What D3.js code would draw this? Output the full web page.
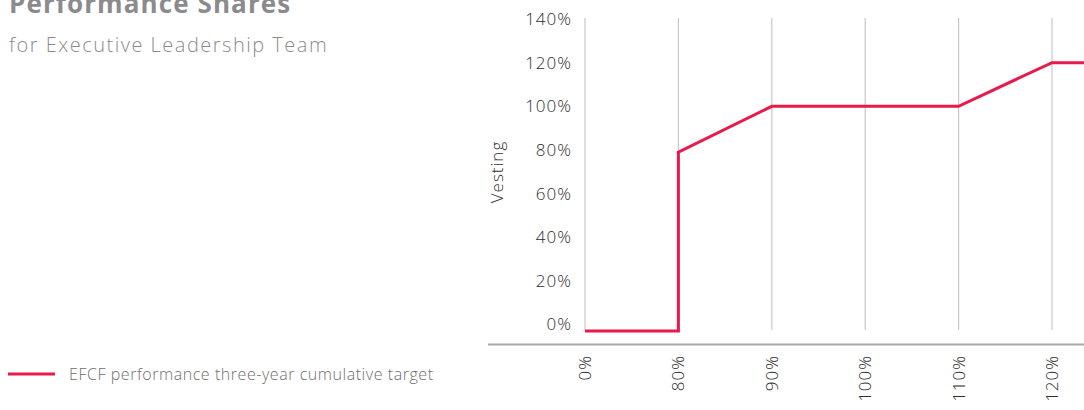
<!DOCTYPE html>
<html>
<head>
<meta charset="utf-8">
<script src="https://cdn.jsdelivr.net/npm/d3@7"></script>
<style>
  html, body { margin: 0; padding: 0; background: #fff; }
  svg { display: block; font-family: "Open Sans", Lato, sans-serif; }
</style>
</head>
<body>
<svg id="chart" width="1084" height="410"></svg>
<script>
// Performance categories along the x axis (the last one sits past the right edge)
const categories = ["0%", "80%", "90%", "100%", "110%", "120%", "130%"];
// Vesting line: category index and vesting percentage at each vertex
const lineIndex = [0, 1, 1, 2, 3, 4, 5, 6];
const lineVesting = [-3, -3, 79, 100, 100, 100, 120, 120];
const yTicks = [0, 20, 40, 60, 80, 100, 120, 140];
const visibleCats = categories.slice(0, 6);

const FONT = "'Open Sans', Lato, sans-serif";
const svg = d3.select("#chart");
const red = "#e8194b";

const x = d3.scaleLinear().domain([0, 1]).range([585, 678.4]);
const y = d3.scaleLinear().domain([0, 140]).range([324.5, 19]);

// Title block
svg.append("text").attr("x", 9).attr("y", 13)
  .attr("font-size", 26).attr("font-weight", 700).attr("fill", "#8b8b8e")
  .attr("letter-spacing", 1.1)
  .text("Performance Shares");
svg.append("text").attr("x", 9).attr("y", 52)
  .attr("font-size", 20).attr("font-weight", 300).attr("fill", "#8b8b8e")
  .attr("letter-spacing", 1.5)
  .text("for Executive Leadership Team");

// Vertical gridlines at each visible category
svg.append("g").selectAll("line").data(visibleCats).join("line")
  .attr("x1", (d, i) => x(i)).attr("x2", (d, i) => x(i))
  .attr("y1", 18).attr("y2", 330)
  .attr("stroke", "#c8c8c8").attr("stroke-width", 1.2);

// Y axis tick labels
const yAxis = d3.axisLeft(y).tickValues(yTicks).tickFormat(d => d + "%").tickSize(0).tickPadding(0);
const gy = svg.append("g").attr("transform", "translate(572,0)").call(yAxis);
gy.select(".domain").remove();
gy.selectAll("text").attr("font-size", 17).attr("font-family", FONT)
  .attr("font-weight", 300).attr("fill", "#2e2e2e").attr("letter-spacing", 1);

// Y axis title
svg.append("text")
  .attr("transform", "translate(503,172) rotate(-90)")
  .attr("text-anchor", "middle")
  .attr("font-size", 17).attr("font-weight", 300).attr("fill", "#2e2e2e")
  .attr("letter-spacing", 1)
  .text("Vesting");

// Baseline
svg.append("line").attr("x1", 488).attr("x2", 1084).attr("y1", 344.5).attr("y2", 344.5)
  .attr("stroke", "#a8a8a8").attr("stroke-width", 2);

// X axis labels, rotated
svg.append("g").selectAll("text").data(visibleCats).join("text")
  .attr("transform", (d, i) => `translate(${x(i) + 6},355) rotate(-90)`)
  .attr("text-anchor", "end")
  .attr("font-size", 17).attr("font-weight", 300).attr("fill", "#2e2e2e")
  .attr("letter-spacing", 1)
  .text(d => d);

// Vesting line
const pts = lineIndex.map((d, i) => [d, lineVesting[i]]);
const line = d3.line().x(d => x(d[0])).y(d => y(d[1]));
svg.append("path").datum(pts).attr("d", line)
  .attr("fill", "none").attr("stroke", red).attr("stroke-width", 3)
  .attr("stroke-linejoin", "miter");

// Legend
svg.append("line").attr("x1", 8).attr("x2", 55).attr("y1", 374).attr("y2", 374)
  .attr("stroke", red).attr("stroke-width", 3);
svg.append("text").attr("x", 69).attr("y", 380)
  .attr("font-size", 16).attr("font-weight", 300).attr("fill", "#6e6e6e")
  .attr("letter-spacing", 0.55)
  .text("EFCF performance three-year cumulative target");
</script>
</body>
</html>
